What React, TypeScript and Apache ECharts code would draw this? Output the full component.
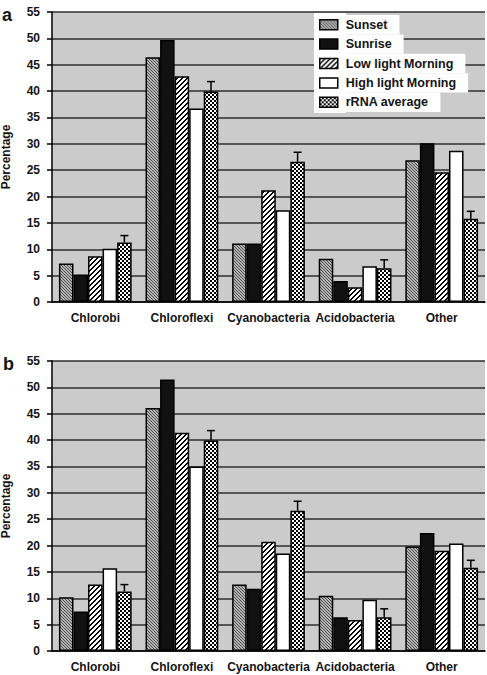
import React, { useEffect, useRef } from 'react';
import * as echarts from 'echarts';

const categories = ['Chlorobi', 'Chloroflexi', 'Cyanobacteria', 'Acidobacteria', 'Other'];
const seriesNames = ['Sunset', 'Sunrise', 'Low light Morning', 'High light Morning', 'rRNA average'];
const yMin = 0;
const yMax = 55;
const yInterval = 5;

// Panel a
const aSunset = [7.3, 46.4, 11.1, 8.2, 26.9];
const aSunrise = [5.2, 49.7, 11.1, 4.0, 30.1];
const aLowLight = [8.7, 42.8, 21.2, 2.8, 24.6];
const aHighLight = [10.1, 36.7, 17.4, 6.8, 28.7];

// Panel b
const bSunset = [10.2, 46.1, 12.6, 10.5, 19.8];
const bSunrise = [7.5, 51.5, 11.8, 6.4, 22.4];
const bLowLight = [12.6, 41.4, 20.7, 5.9, 19.0];
const bHighLight = [15.7, 35.0, 18.5, 9.7, 20.4];

// rRNA average (same in both panels) and top of its error bar
const rrnaAvg = [11.3, 39.9, 26.6, 6.4, 15.8];
const rrnaErrTop = [12.6, 41.8, 28.4, 8.0, 17.2];

const FONT = '"Liberation Sans", Arial, Helvetica, sans-serif';
const TEXT = '#141414';
const GAP = 0.16;

function makeTile(size: number, draw: (ctx: CanvasRenderingContext2D) => void) {
  const c = document.createElement('canvas');
  c.width = size;
  c.height = size;
  const ctx = c.getContext('2d')!;
  draw(ctx);
  return { image: c, repeat: 'repeat', imageWidth: size, imageHeight: size } as any;
}

export default function App() {
  const ref = useRef<HTMLDivElement>(null);

  useEffect(() => {
    if (!ref.current) return;
    const chart = echarts.init(ref.current, undefined, { renderer: 'svg' });

    const sunsetPat = makeTile(3, (ctx) => {
      ctx.fillStyle = '#b6b6b6';
      ctx.fillRect(0, 0, 3, 3);
      ctx.fillStyle = '#4a4a4a';
      for (let i = 0; i < 3; i++) ctx.fillRect(i, i, 1, 1);
    });
    const lowPat = makeTile(5, (ctx) => {
      ctx.fillStyle = '#ffffff';
      ctx.fillRect(0, 0, 5, 5);
      ctx.fillStyle = '#000000';
      for (let y = 0; y < 5; y++) {
        for (let k = 0; k < 2; k++) {
          const x = (((4 - y + k) % 5) + 5) % 5;
          ctx.fillRect(x, y, 1, 1);
        }
      }
    });
    const rrnaPat = makeTile(4, (ctx) => {
      ctx.fillStyle = '#000000';
      ctx.fillRect(0, 0, 4, 4);
      ctx.fillStyle = '#ffffff';
      ctx.fillRect(0, 0, 2, 2);
      ctx.fillRect(2, 2, 2, 2);
    });
    const fills = [sunsetPat, '#111111', lowPat, '#ffffff', rrnaPat];

    const panels = [
      [aSunset, aSunrise, aLowLight, aHighLight, rrnaAvg],
      [bSunset, bSunrise, bLowLight, bHighLight, rrnaAvg],
    ];

    const grids = [
      { left: 52, top: 12, width: 433, height: 290 },
      { left: 52, top: 361, width: 433, height: 290 },
    ].map((g) => ({
      ...g,
      show: true,
      backgroundColor: '#cbcbcb',
      borderWidth: 0,
      containLabel: false,
      outerBoundsMode: 'none',
    }));

    const xAxes = [0, 1].map((gi) => ({
      type: 'category',
      gridIndex: gi,
      data: categories,
      axisLine: { lineStyle: { color: '#000', width: 1.5 } },
      axisTick: { alignWithLabel: true, length: 5, lineStyle: { color: '#000', width: 1.5 } },
      axisLabel: { interval: 0, fontFamily: FONT, fontWeight: 'bold', fontSize: 12, color: TEXT, margin: 10, hideOverlap: false },
      splitLine: { show: false },
    }));

    const yAxes = [0, 1].map((gi) => ({
      type: 'value',
      gridIndex: gi,
      min: yMin,
      max: yMax,
      interval: yInterval,
      name: 'Percentage',
      nameLocation: 'middle',
      nameGap: 40,
      nameRotate: 90,
      nameTextStyle: { fontFamily: FONT, fontWeight: 'bold', fontSize: 12, color: TEXT },
      axisLine: { show: true, lineStyle: { color: '#000', width: 1.5 } },
      axisTick: { show: true, length: 5, lineStyle: { color: '#000', width: 1.5 } },
      axisLabel: { fontFamily: FONT, fontWeight: 'bold', fontSize: 12, color: TEXT, margin: 12 },
      splitLine: { show: true, lineStyle: { color: '#2e2e2e', width: 1.5 } },
    }));

    const series: any[] = [];
    panels.forEach((vals, pi) => {
      vals.forEach((arr, si) => {
        series.push({
          type: 'bar',
          name: seriesNames[si],
          xAxisIndex: pi,
          yAxisIndex: pi,
          data: arr,
          barGap: '0%',
          barCategoryGap: GAP * 100 + '%',
          itemStyle: { color: fills[si], borderColor: '#000', borderWidth: 1.5 },
          emphasis: { disabled: true },
        });
      });
      series.push({
        type: 'custom',
        name: 'err' + pi,
        xAxisIndex: pi,
        yAxisIndex: pi,
        z: 10,
        encode: { x: 0, y: 1 },
        data: categories.map((_, i) => [i, rrnaAvg[i], rrnaErrTop[i]]),
        renderItem: (params: any, api: any) => {
          const i = api.value(0);
          const v = api.value(1);
          const e = api.value(2);
          const band = api.size([1, 0])[0];
          const bw = (band * (1 - GAP)) / 5;
          const base = api.coord([i, v]);
          const top = api.coord([i, e]);
          const x = base[0] + 2 * bw;
          const st = { stroke: '#000', lineWidth: 1.5 };
          return {
            type: 'group',
            children: [
              { type: 'line', shape: { x1: x, y1: base[1], x2: x, y2: top[1] }, style: st },
              { type: 'line', shape: { x1: x - 4, y1: top[1], x2: x + 4, y2: top[1] }, style: st },
            ],
          };
        },
      });
    });

    chart.setOption({
      animation: false,
      grid: grids,
      xAxis: xAxes,
      yAxis: yAxes,
      legend: {
        data: seriesNames,
        orient: 'vertical',
        left: 319,
        top: 15,
        padding: 0,
        itemGap: 0,
        itemWidth: 18,
        itemHeight: 10,
        icon: 'rect',
        selectedMode: false,
        itemStyle: { borderColor: '#000', borderWidth: 1.5 },
        textStyle: {
          fontFamily: FONT,
          fontWeight: 'bold',
          fontSize: 12.5,
          color: TEXT,
          backgroundColor: '#ffffff',
          padding: [0, 12, 0, 3],
          lineHeight: 19.4,
        },
      },
      graphic: [
        { type: 'rect', shape: { x: 314, y: 13, width: 32, height: 100 }, style: { fill: '#ffffff' }, z: 3 },
        { type: 'text', x: 2, y: 6, style: { text: 'a', font: 'bold 18px ' + FONT, fill: TEXT } },
        { type: 'text', x: 3, y: 355, style: { text: 'b', font: 'bold 18px ' + FONT, fill: TEXT } },
      ],
      series,
    });

    return () => chart.dispose();
  }, []);

  return (
    <div
      ref={ref}
      style={{ position: 'fixed', left: 0, top: 0, width: 487, height: 675, background: '#ffffff' }}
    />
  );
}
